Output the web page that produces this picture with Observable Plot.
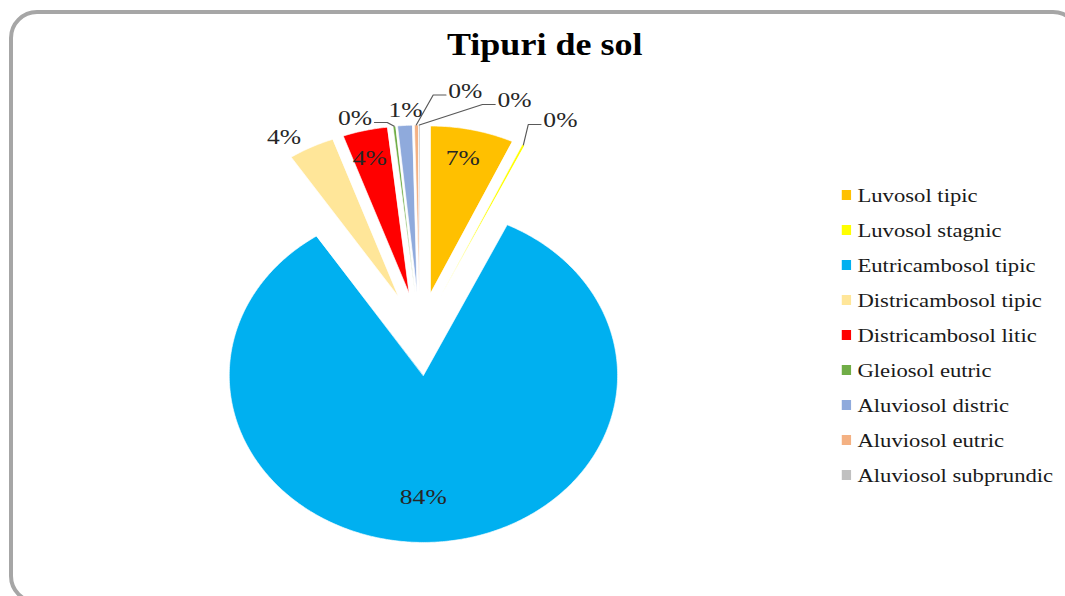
<!DOCTYPE html>
<html>
<head>
<meta charset="utf-8">
<script src="https://cdn.jsdelivr.net/npm/d3@7"></script>
<script src="https://cdn.jsdelivr.net/npm/@observablehq/plot@0.6"></script>
<style>
  html, body { margin: 0; padding: 0; background: #fff; width: 1065px; height: 596px; overflow: hidden; }
  #frame { position: absolute; left: 9px; top: 10px; width: 1072px; height: 594px; border: 4px solid #a6a6a6; border-radius: 28px; box-sizing: border-box; pointer-events: none; }
  #chart { position: absolute; left: 0; top: 0; }
</style>
</head>
<body>
<div id="frame"></div>
<div id="chart"></div>
<script>
// ---- data ----
const chartTitle = "Tipuri de sol";
const soilTypes = [
  "Luvosol tipic",
  "Luvosol stagnic",
  "Eutricambosol tipic",
  "Districambosol tipic",
  "Districambosol litic",
  "Gleiosol eutric",
  "Aluviosol distric",
  "Aluviosol eutric",
  "Aluviosol subprundic"
];
const shares = [6.9, 0.2, 83.6, 3.8, 3.7, 0.2, 1.2, 0.3, 0.1];
const sliceColors = ["#FFC000", "#FFFF00", "#00B0F0", "#FFE699", "#FF0000", "#70AD47", "#8FAADC", "#F4B183", "#C0C0C0"];

// ---- label layout (nudges relative to slice bisector, radius as fraction of pie radius) ----
const labelNudgeDeg = [-0.6, 4.25, 3, -4.1, -0.7, -8.4, 0.4, 10, 19.35];
const labelRadius   = [1.076, 1.47, 0.98, 1.371, 1.084, 1.335, 1.34, 1.475, 1.482];
const labelLeader   = [false, true, false, false, false, true, false, true, true];

// ---- layout constants ----
const W = 916, H = 596, stretch = 1065 / W;
const R = 167, explode = 0.25 * R, cx = 360.8, cy = 333.3;
const font = "'Liberation Serif', 'Times New Roman', serif";
const labelSize = 22;

const polar = (ox, oy, r, a) => [ox + r * Math.sin(a), oy - r * Math.cos(a)];
const total = d3.sum(shares);
const arcs = d3.pie().sort(null).value(d => d)(shares);

const slicePoints = [];
const labels = [];
const leaders = [];
arcs.forEach((a, i) => {
  const name = soilTypes[i];
  const mid = (a.startAngle + a.endAngle) / 2;
  const [ax, ay] = polar(cx, cy, explode, mid);
  slicePoints.push({name, x: ax, y: ay});
  const n = Math.max(2, Math.ceil((a.endAngle - a.startAngle) / 0.01));
  for (let k = 0; k <= n; k++) {
    const t = a.startAngle + (a.endAngle - a.startAngle) * k / n;
    const [px, py] = polar(ax, ay, R, t);
    slicePoints.push({name, x: px, y: py});
  }
  const la = mid + labelNudgeDeg[i] * Math.PI / 180;
  const [lx, ly] = polar(cx, cy, labelRadius[i] * R, la);
  const text = Math.round(shares[i] / total * 100) + "%";
  labels.push({name, x: lx, y: ly, text});
  if (labelLeader[i]) {
    const [ox, oy] = polar(ax, ay, R, mid);
    const halfW = labelSize * 1.333 / 2;
    const side = lx > ox ? -1 : 1;
    const ex = lx + side * (halfW + 2), ey = ly + 4.5;
    leaders.push({name, x: ex, y: ey});
    leaders.push({name, x: ex + side * 11, y: ey});
    leaders.push({name, x: ox, y: oy});
  }
});

const legendX = 724, legendTop = 195, legendStep = 35;
const legendRows = soilTypes.map((name, i) => ({name, y: legendTop + i * legendStep}));

const svg = Plot.plot({
  width: W,
  height: H,
  margin: 0,
  style: {background: "transparent", fontFamily: font, overflow: "visible"},
  x: {domain: [0, W], range: [0, W], axis: null},
  y: {domain: [0, H], range: [0, H], axis: null},
  color: {domain: soilTypes, range: sliceColors},
  marks: [
    Plot.line(slicePoints, {x: "x", y: "y", z: "name", fill: "name", stroke: "white", strokeWidth: 0.6, curve: "linear-closed"}),
    Plot.line(leaders, {x: "x", y: "y", z: "name", stroke: "#595959", strokeWidth: 1}),
    Plot.text(labels, {x: "x", y: "y", text: "text", fontSize: labelSize, fontFamily: font, fill: "#262626"}),
    Plot.rect(legendRows, {x1: () => legendX, x2: () => legendX + 8, y1: d => d.y - 5, y2: d => d.y + 5, fill: "name"}),
    Plot.text(legendRows, {x: () => legendX + 13, y: "y", text: "name", textAnchor: "start", fontSize: 19.5, fontFamily: font, fill: "#1a1a1a"}),
    Plot.text([chartTitle], {frameAnchor: "top", lineAnchor: "middle", dx: 10, dy: 45, text: d => d, fontSize: 31, fontWeight: "bold", fontFamily: font, fill: "#000"})
  ]
});
svg.style.transform = `scaleX(${stretch})`;
svg.style.transformOrigin = "0 0";
svg.style.maxWidth = "none";
document.getElementById("chart").appendChild(svg);
</script>
</body>
</html>
